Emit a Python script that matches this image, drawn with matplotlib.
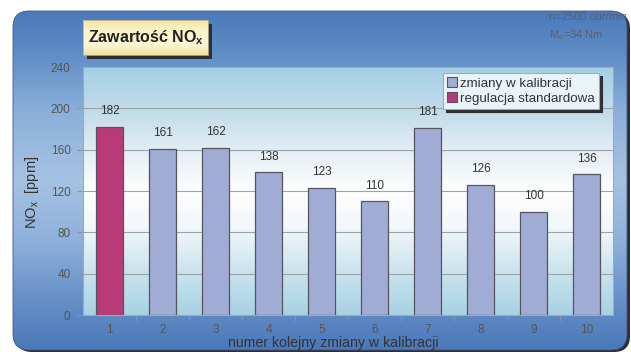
import numpy as np
import matplotlib
matplotlib.use('Agg')
import matplotlib.pyplot as plt
from matplotlib.patches import FancyBboxPatch, Rectangle, Patch
from matplotlib.colors import LinearSegmentedColormap, to_rgb

plt.rcParams['font.family'] = ['Liberation Sans', 'DejaVu Sans']
plt.rcParams['mathtext.fontset'] = 'custom'
plt.rcParams['mathtext.rm'] = 'Liberation Sans'
plt.rcParams['mathtext.bf'] = 'Liberation Sans:bold'

kroki = [1, 2, 3, 4, 5, 6, 7, 8, 9, 10]
nox = [182, 161, 162, 138, 123, 110, 181, 126, 100, 136]
serie = ['zmiany w kalibracji', 'regulacja standardowa']
y_ticks = [0, 40, 80, 120, 160, 200, 240]

C_ZMIANY = '#a0acd4'
C_STANDARD = '#b83a78'
W, H = 631, 356


def gradient(stops, n=256):
    cmap = LinearSegmentedColormap.from_list('g', [(p, to_rgb(c)) for p, c in stops])
    return cmap(np.linspace(0, 1, n))[:, None, :]


fig = plt.figure(figsize=(W / 100, H / 100), dpi=100)
fig.patch.set_facecolor('white')

# tło w pikselach figury
bg = fig.add_axes([0, 0, 1, 1])
bg.set_xlim(0, W)
bg.set_ylim(H, 0)
bg.axis('off')

shadow = FancyBboxPatch((16, 13), 614, 339, boxstyle='round,pad=0,rounding_size=16',
                        fc='#2e2e33', ec='none', zorder=1)
bg.add_patch(shadow)
panel = FancyBboxPatch((13, 11), 614, 339, boxstyle='round,pad=0,rounding_size=16',
                       fc='none', ec='#3a5a8a', lw=0.6, zorder=3)
bg.add_patch(panel)
panel_grad = gradient([(0, '#4a7aba'), (0.12, '#5e8cc4'), (0.3, '#8cb0da'),
                       (0.5, '#a6c2e2'), (0.68, '#8eb0da'), (0.85, '#6890c8'),
                       (1, '#4a78b8')])
im = bg.imshow(panel_grad, extent=[13, 627, 350, 11], aspect='auto', zorder=2)
im.set_clip_path(panel)

# ramka tytułu z cieniem
bg.add_patch(Rectangle((87, 24), 125, 35, fc='#2e2e33', ec='none', zorder=4))
title_grad = gradient([(0, '#f2e6a4'), (0.3, '#fbf4c8'), (0.7, '#fcf6d2'), (1, '#efe2a0')])
bg.imshow(title_grad, extent=[83, 208, 55, 20], aspect='auto', zorder=5)
bg.add_patch(Rectangle((83, 20), 125, 35, fc='none', ec='#b8b090', lw=0.6, zorder=6))
bg.text(146, 38, r'Zawartość NO$_\mathbf{x}$', fontsize=11.5, fontweight='bold',
        color='#222222', ha='center', va='center', zorder=7)

# parametry pomiaru
t1 = bg.text(549, 17, 'n=2500 obr/min', fontsize=8, color='#5a5e70', va='center', zorder=7)
t2 = bg.text(549, 35, r'M$_\mathrm{o}$=34 Nm', fontsize=8, color='#5a5e70', va='center', zorder=7)
t1.set_clip_path(panel)
t2.set_clip_path(panel)
bg.set_xlim(0, W)
bg.set_ylim(H, 0)

# wykres słupkowy
ax = fig.add_axes([83 / W, (H - 315) / H, 530 / W, 248 / H])
ax.set_facecolor('none')
area_grad = gradient([(0, '#a6d0e6'), (0.18, '#c2dcea'), (0.35, '#e6eff4'),
                      (0.5, '#ffffff'), (0.65, '#f2f7f9'), (0.82, '#cce4ee'),
                      (1, '#a8d2e4')])
ax.imshow(area_grad, extent=[0, 1, 0, 1], transform=ax.transAxes, aspect='auto', zorder=0)

kolory = [C_STANDARD] + [C_ZMIANY] * (len(kroki) - 1)
bars = ax.bar(kroki, nox, width=0.51, color=kolory, edgecolor='#555560', linewidth=0.9, zorder=3)
for b, v in zip(bars, nox):
    ax.annotate(str(v), (b.get_x() + b.get_width() / 2, v), xytext=(0, 7),
                textcoords='offset points', ha='center', va='bottom',
                fontsize=8.5, color='#333333', zorder=4)

ax.set_xlim(0.5, 10.5)
ax.set_ylim(0, 240)
ax.set_yticks(y_ticks)
ax.yaxis.grid(True, color='#9aa4ac', lw=0.8, zorder=1)
ax.set_axisbelow(True)
ax.set_xticks(kroki)
ax.set_xticks(np.arange(1.5, 10.5, 1), minor=True)
ax.tick_params(axis='x', which='major', length=0, pad=6.5, labelsize=8.5, labelcolor='#555555')
ax.tick_params(axis='x', which='minor', length=4, color='#8898a8', direction='out')
ax.tick_params(axis='y', length=4, color='#8898a8', labelsize=8.5, labelcolor='#555555', pad=5)
for s in ax.spines.values():
    s.set_color('#9aacbc')
    s.set_linewidth(0.8)

fig.text(32 / W, 1 - 192 / H, r'NO$_\mathrm{x}$  [ppm]', rotation=90, fontsize=10.5,
         color='#333333', ha='center', va='center')
fig.text(333 / W, 1 - 347.5 / H, 'numer kolejny zmiany w kalibracji', fontsize=10.2,
         color='#333333', ha='center', va='baseline')

uchwyty = [Patch(fc=C_ZMIANY, ec='#555560', lw=0.8, label=serie[0]),
           Patch(fc=C_STANDARD, ec='#555560', lw=0.8, label=serie[1])]
leg = ax.legend(handles=uchwyty, loc='upper left', bbox_to_anchor=(443 / W, 1 - 73 / H),
                bbox_transform=fig.transFigure, borderaxespad=0, fontsize=9.6,
                handlelength=0.75, handleheight=0.75, handletextpad=0.25, labelspacing=0.2,
                borderpad=0.3, fancybox=False, framealpha=1, facecolor='#eaf4f8',
                edgecolor='#9aacbc', shadow={'color': '#2e2e33', 'alpha': 1})
leg.get_frame().set_linewidth(0.8)
for t in leg.get_texts():
    t.set_color('#333333')

fig.savefig('out.png', dpi=100)
